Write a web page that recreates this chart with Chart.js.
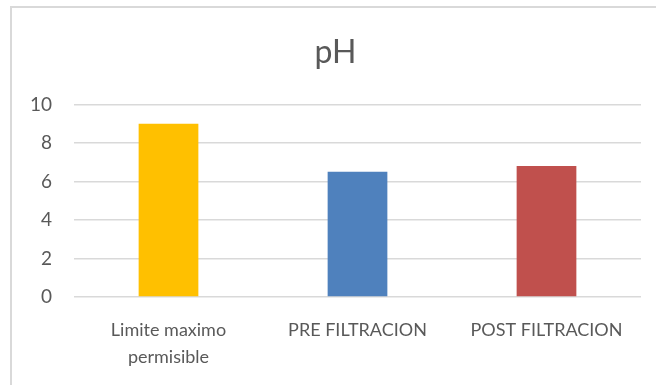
<!DOCTYPE html>
<html>
<head>
<meta charset="utf-8">
<script src="https://cdn.jsdelivr.net/npm/chart.js@4/dist/chart.umd.min.js"></script>
<style>
  html, body { margin: 0; padding: 0; background: #ffffff; overflow: hidden; }
  #frame {
    position: absolute; left: 10px; top: 6px; width: 700px; height: 420px;
    border-left: 2px solid #d9d9d9; border-top: 2px solid #d9d9d9;
  }
  #chart { position: absolute; left: 0; top: 0; }
</style>
</head>
<body>
<div id="frame"></div>
<canvas id="chart" width="656" height="385"></canvas>
<script>
// pH values by sampling point
const categories = [["Limite maximo", "permisible"], "PRE FILTRACION", "POST FILTRACION"];
const phValues = [9, 6.5, 6.8];
const barColors = ["#ffc000", "#4f81bd", "#c0504d"];
const yTicks = [0, 2, 4, 6, 8, 10];

const textColor = "#595959";
const gridColor = "#d9d9d9";

new Chart(document.getElementById("chart"), {
  type: "bar",
  data: {
    labels: categories,
    datasets: [{
      label: "pH",
      data: phValues,
      backgroundColor: barColors,
      borderWidth: 0,
      categoryPercentage: 1,
      barPercentage: 0.316
    }]
  },
  options: {
    responsive: false,
    maintainAspectRatio: false,
    animation: false,
    layout: { padding: { left: 30, right: 15, top: 8, bottom: 14 } },
    plugins: {
      legend: { display: false },
      tooltip: { enabled: false },
      title: {
        display: true,
        text: "pH",
        color: textColor,
        font: { family: "Lato", size: 32, weight: "normal", lineHeight: 1.2 },
        padding: { top: 25, bottom: 33 }
      }
    },
    scales: {
      x: {
        grid: { display: false, drawTicks: false },
        border: { display: false },
        afterFit: (s) => { s.height = 74; s.paddingLeft = 0; s.paddingRight = 0; },
        ticks: {
          color: textColor,
          font: { family: "Lato", size: 18, lineHeight: 1.5 },
          padding: 20,
          maxRotation: 0,
          autoSkip: false
        }
      },
      y: {
        min: 0,
        max: 10,
        afterBuildTicks: (axis) => { axis.ticks = yTicks.map(v => ({ value: v })); },
        afterFit: (s) => { s.width = 44; },
        grid: { color: gridColor, lineWidth: 1.5, drawTicks: false },
        border: { display: false },
        ticks: {
          color: textColor,
          font: { family: "Lato", size: 19 },
          padding: 22
        }
      }
    }
  }
});
</script>
</body>
</html>
